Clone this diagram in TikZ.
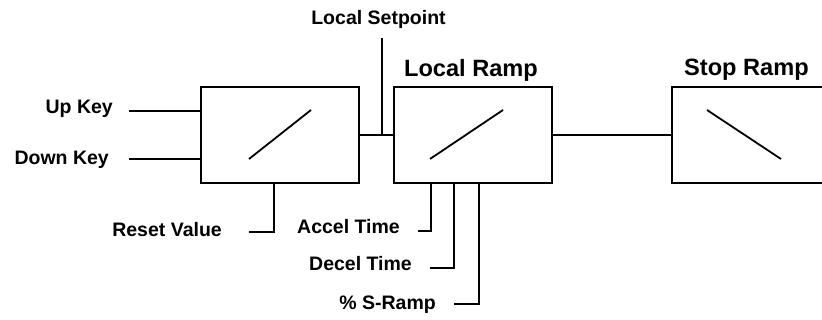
\documentclass[tikz,border=0pt]{standalone}
\usepackage{fontspec}
\setmainfont{Liberation Sans}
\usetikzlibrary{positioning}
\tikzset{
  rampbox/.style={draw,line width=1.8pt,minimum width=158pt,minimum height=96pt,inner sep=0pt},
  wire/.style={line width=1.8pt},
  lbl/.style={inner sep=0pt,font=\fontsize{19.5}{22}\selectfont\bfseries},
  ttl/.style={inner sep=0pt,font=\fontsize{23.6}{26}\selectfont\bfseries}
}

\begin{document}
\begin{tikzpicture}[x=1pt,y=-1pt]
        \useasboundingbox (0,0) rectangle (822,320);
        \clip (0,0) rectangle (822,320);
        % ramp blocks
        \node[rampbox] (keys) at (280,135) {};
        \node[rampbox] (localramp) at (473,135) {};
        \node[rampbox] (stopramp) at (751,135) {};
        \draw[wire] ([shift={(-31,24)}]keys.center) -- ([shift={(31,-25)}]keys.center);
        \draw[wire] ([shift={(-43,24)}]localramp.center) -- ([shift={(30,-25)}]localramp.center);
        \draw[wire] ([shift={(-44,-25)}]stopramp.center) -- ([shift={(30,24)}]stopramp.center);
        % titles
        \node[ttl,anchor=base] (lrtitle) at (471,77) {Local Ramp};
        \node[ttl,anchor=base] (srtitle) at (746.5,76) {Stop Ramp};
        % labels
        \node[lbl,anchor=base east] (upkey) at (113,114) {Up Key};
        \node[lbl,anchor=base east] (downkey) at (109,165) {Down Key};
        \node[lbl,anchor=base east] (reset) at (222,237) {Reset Value};
        \node[lbl,anchor=base] (setpoint) at (378.5,25) {Local Setpoint};
        \node[lbl,anchor=base east] (accel) at (400,234) {Accel Time};
        \node[lbl,anchor=base east] (decel) at (412,271) {Decel Time};
        \node[lbl,anchor=base east] (sramp) at (436,310) {\% S-Ramp};
        % free ends
        \coordinate (upin) at (129,111);
        \coordinate (downin) at (129,159);
        \coordinate (resetin) at (249,232);
        \coordinate (spin) at (382,38);
        \coordinate (accelin) at (418,231);
        \coordinate (decelin) at (430,268);
        \coordinate (srampin) at (454,304);
        % wires
        \draw[wire] (upin) -- (upin -| keys.west);
        \draw[wire] (downin) -- (downin -| keys.west);
        \draw[wire] (resetin) -| ([xshift=-6pt]keys.south);
        \draw[wire] (keys.east) -- (localramp.west);
        \draw[wire] (spin) -- (spin |- keys.east);
        \draw[wire] (accelin) -| ([xshift=-42pt]localramp.south);
        \draw[wire] (decelin) -| ([xshift=-19pt]localramp.south);
        \draw[wire] (srampin) -| ([xshift=6pt]localramp.south);
        \draw[wire] (localramp.east) -- (stopramp.west);
      \end{tikzpicture}
\end{document}
